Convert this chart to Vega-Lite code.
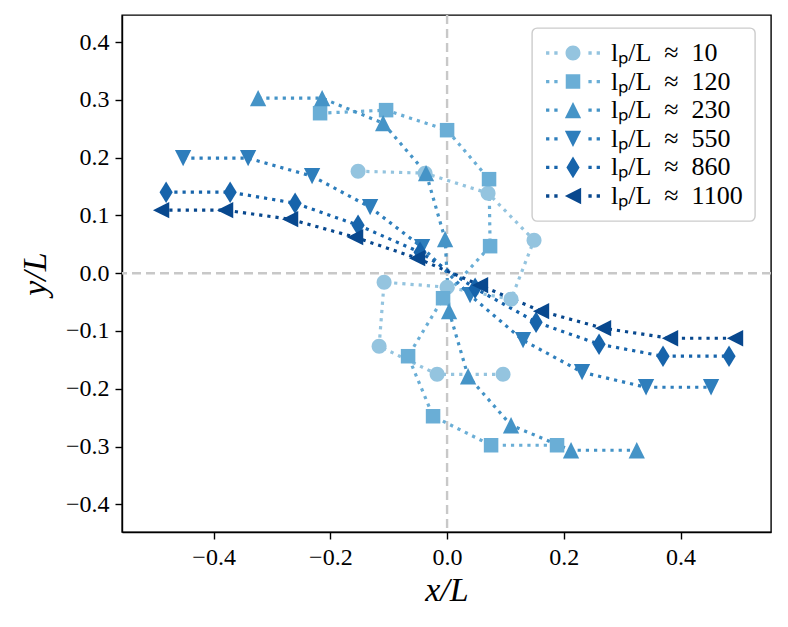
{
  "$schema": "https://vega.github.io/schema/vega-lite/v6.json",
  "autosize": {"type": "none"},
  "width": 649,
  "height": 517,
  "padding": {"left": 122, "top": 15, "right": 17, "bottom": 95},
  "background": "white",
  "config": {
    "view": {"stroke": "black", "strokeWidth": 1.4},
    "axis": {
      "grid": false,
      "domainColor": "black",
      "domainWidth": 1.4,
      "tickColor": "black",
      "tickWidth": 1.4,
      "tickSize": 7,
      "labelFont": "Liberation Serif",
      "labelFontSize": 24,
      "labelColor": "black",
      "labelPadding": 6,
      "titleFont": "Liberation Serif",
      "titleFontSize": 34,
      "titleFontWeight": "normal",
      "titleFontStyle": "italic",
      "titleColor": "black"
    },
    "legend": {
      "orient": "none",
      "legendX": 410,
      "legendY": 13,
      "fillColor": "rgba(255,255,255,0.85)",
      "strokeColor": "#cccccc",
      "strokeWidth": 1.4,
      "cornerRadius": 5,
      "padding": 12,
      "symbolSize": 484,
      "symbolOffset": 16,
      "symbolOpacity": 1,
      "labelOffset": 25,
      "labelFont": "Liberation Serif",
      "labelFontSize": 26,
      "labelColor": "black",
      "labelLimit": 0,
      "rowPadding": 2.6,
      "symbolStrokeWidth": 0
    }
  },
  "datasets": {
    "pts": [
      {"s": "lₚ/L ≈ 10", "i": 1, "x": -0.1525, "y": 0.1766},
      {"s": "lₚ/L ≈ 10", "i": 2, "x": -0.0377, "y": 0.1732},
      {"s": "lₚ/L ≈ 10", "i": 3, "x": 0.0702, "y": 0.1385},
      {"s": "lₚ/L ≈ 10", "i": 4, "x": 0.149, "y": 0.0571},
      {"s": "lₚ/L ≈ 10", "i": 5, "x": 0.1096, "y": -0.045},
      {"s": "lₚ/L ≈ 10", "i": 6, "x": 0.0, "y": -0.0242},
      {"s": "lₚ/L ≈ 10", "i": 7, "x": -0.1079, "y": -0.0156},
      {"s": "lₚ/L ≈ 10", "i": 8, "x": -0.1165, "y": -0.1264},
      {"s": "lₚ/L ≈ 10", "i": 9, "x": -0.0171, "y": -0.175},
      {"s": "lₚ/L ≈ 10", "i": 10, "x": 0.0959, "y": -0.175},
      {"s": "lₚ/L ≈ 120", "i": 1, "x": -0.2176, "y": 0.277},
      {"s": "lₚ/L ≈ 120", "i": 2, "x": -0.1045, "y": 0.2823},
      {"s": "lₚ/L ≈ 120", "i": 3, "x": 0.0, "y": 0.2476},
      {"s": "lₚ/L ≈ 120", "i": 4, "x": 0.0719, "y": 0.1628},
      {"s": "lₚ/L ≈ 120", "i": 5, "x": 0.0737, "y": 0.0468},
      {"s": "lₚ/L ≈ 120", "i": 6, "x": -0.0069, "y": -0.0433},
      {"s": "lₚ/L ≈ 120", "i": 7, "x": -0.0668, "y": -0.1437},
      {"s": "lₚ/L ≈ 120", "i": 8, "x": -0.024, "y": -0.2476},
      {"s": "lₚ/L ≈ 120", "i": 9, "x": 0.0754, "y": -0.2978},
      {"s": "lₚ/L ≈ 120", "i": 10, "x": 0.1884, "y": -0.2978},
      {"s": "lₚ/L ≈ 230", "i": 1, "x": -0.3238, "y": 0.303},
      {"s": "lₚ/L ≈ 230", "i": 2, "x": -0.2141, "y": 0.303},
      {"s": "lₚ/L ≈ 230", "i": 3, "x": -0.1096, "y": 0.2597},
      {"s": "lₚ/L ≈ 230", "i": 4, "x": -0.036, "y": 0.1732},
      {"s": "lₚ/L ≈ 230", "i": 5, "x": -0.0034, "y": 0.0589},
      {"s": "lₚ/L ≈ 230", "i": 6, "x": 0.0034, "y": -0.0658},
      {"s": "lₚ/L ≈ 230", "i": 7, "x": 0.036, "y": -0.1784},
      {"s": "lₚ/L ≈ 230", "i": 8, "x": 0.1096, "y": -0.2632},
      {"s": "lₚ/L ≈ 230", "i": 9, "x": 0.2124, "y": -0.3065},
      {"s": "lₚ/L ≈ 230", "i": 10, "x": 0.325, "y": -0.3065},
      {"s": "lₚ/L ≈ 550", "i": 1, "x": -0.4523, "y": 0.1991},
      {"s": "lₚ/L ≈ 550", "i": 2, "x": -0.3409, "y": 0.1991},
      {"s": "lₚ/L ≈ 550", "i": 3, "x": -0.2313, "y": 0.168},
      {"s": "lₚ/L ≈ 550", "i": 4, "x": -0.1319, "y": 0.1143},
      {"s": "lₚ/L ≈ 550", "i": 5, "x": -0.0428, "y": 0.045},
      {"s": "lₚ/L ≈ 550", "i": 6, "x": 0.0394, "y": -0.0381},
      {"s": "lₚ/L ≈ 550", "i": 7, "x": 0.1302, "y": -0.116},
      {"s": "lₚ/L ≈ 550", "i": 8, "x": 0.2313, "y": -0.1714},
      {"s": "lₚ/L ≈ 550", "i": 9, "x": 0.3409, "y": -0.1974},
      {"s": "lₚ/L ≈ 550", "i": 10, "x": 0.4523, "y": -0.1974},
      {"s": "lₚ/L ≈ 860", "i": 1, "x": -0.4814, "y": 0.1403},
      {"s": "lₚ/L ≈ 860", "i": 2, "x": -0.3717, "y": 0.1403},
      {"s": "lₚ/L ≈ 860", "i": 3, "x": -0.2604, "y": 0.1212},
      {"s": "lₚ/L ≈ 860", "i": 4, "x": -0.1525, "y": 0.0831},
      {"s": "lₚ/L ≈ 860", "i": 5, "x": -0.0463, "y": 0.0364},
      {"s": "lₚ/L ≈ 860", "i": 6, "x": 0.048, "y": -0.026},
      {"s": "lₚ/L ≈ 860", "i": 7, "x": 0.1525, "y": -0.0848},
      {"s": "lₚ/L ≈ 860", "i": 8, "x": 0.2604, "y": -0.1229},
      {"s": "lₚ/L ≈ 860", "i": 9, "x": 0.37, "y": -0.1437},
      {"s": "lₚ/L ≈ 860", "i": 10, "x": 0.4831, "y": -0.1437},
      {"s": "lₚ/L ≈ 1100", "i": 1, "x": -0.49, "y": 0.1091},
      {"s": "lₚ/L ≈ 1100", "i": 2, "x": -0.3803, "y": 0.1091},
      {"s": "lₚ/L ≈ 1100", "i": 3, "x": -0.269, "y": 0.0935},
      {"s": "lₚ/L ≈ 1100", "i": 4, "x": -0.1576, "y": 0.0623},
      {"s": "lₚ/L ≈ 1100", "i": 5, "x": -0.0514, "y": 0.026},
      {"s": "lₚ/L ≈ 1100", "i": 6, "x": 0.0565, "y": -0.0208},
      {"s": "lₚ/L ≈ 1100", "i": 7, "x": 0.161, "y": -0.0658},
      {"s": "lₚ/L ≈ 1100", "i": 8, "x": 0.2672, "y": -0.0952},
      {"s": "lₚ/L ≈ 1100", "i": 9, "x": 0.382, "y": -0.1126},
      {"s": "lₚ/L ≈ 1100", "i": 10, "x": 0.4934, "y": -0.1126}
    ],
    "zero": [{"z": 0}]
  },
  "layer": [
    {
      "data": {"name": "zero"},
      "mark": {"type": "rule", "color": "#c8c8c8", "strokeWidth": 2.4, "strokeDash": [9, 5]},
      "encoding": {
        "x": {"field": "z", "type": "quantitative", "scale": {"domain": [-0.557, 0.555], "nice": false, "zero": false}, "axis": {"values": [-0.4, -0.2, 0, 0.2, 0.4], "format": ".1f", "title": "x/L", "titlePadding": 4}}
      }
    },
    {
      "data": {"name": "zero"},
      "mark": {"type": "rule", "color": "#c8c8c8", "strokeWidth": 2.4, "strokeDash": [9, 5]},
      "encoding": {
        "y": {"field": "z", "type": "quantitative", "scale": {"domain": [-0.448, 0.447], "nice": false, "zero": false}, "axis": {"values": [-0.4, -0.3, -0.2, -0.1, 0, 0.1, 0.2, 0.3, 0.4], "format": ".1f", "title": "y/L", "titlePadding": 13}}
      }
    },
    {
      "data": {"name": "pts"},
      "mark": {"type": "line", "strokeWidth": 3.2, "strokeDash": [3.2, 5], "strokeCap": "butt"},
      "encoding": {
        "x": {"field": "x", "type": "quantitative"},
        "y": {"field": "y", "type": "quantitative"},
        "color": {"field": "s", "type": "nominal", "sort": ["lₚ/L ≈ 10", "lₚ/L ≈ 120", "lₚ/L ≈ 230", "lₚ/L ≈ 550", "lₚ/L ≈ 860", "lₚ/L ≈ 1100"], "scale": {"range": ["#94c4df", "#6aaed6", "#4594c7", "#2e7ebc", "#1764ab", "#08488e"]}, "legend": null},
        "order": {"field": "i", "type": "quantitative"}
      }
    },
    {
      "data": {"name": "pts"},
      "mark": {"type": "point", "filled": true, "opacity": 1, "size": 484, "strokeWidth": 0},
      "encoding": {
        "x": {"field": "x", "type": "quantitative"},
        "y": {"field": "y", "type": "quantitative"},
        "color": {"field": "s", "type": "nominal", "sort": ["lₚ/L ≈ 10", "lₚ/L ≈ 120", "lₚ/L ≈ 230", "lₚ/L ≈ 550", "lₚ/L ≈ 860", "lₚ/L ≈ 1100"], "scale": {"range": ["#94c4df", "#6aaed6", "#4594c7", "#2e7ebc", "#1764ab", "#08488e"]}, "legend": null},
        "shape": {"field": "s", "type": "nominal", "sort": ["lₚ/L ≈ 10", "lₚ/L ≈ 120", "lₚ/L ≈ 230", "lₚ/L ≈ 550", "lₚ/L ≈ 860", "lₚ/L ≈ 1100"], "scale": {"range": [
          "M0.68,0A0.68,0.68,0,1,1,-0.68,0A0.68,0.68,0,1,1,0.68,0Z",
          "M-0.66,-0.66H0.66V0.66H-0.66Z",
          "M0,-0.74L0.74,0.74L-0.74,0.74Z",
          "M0,0.74L0.74,-0.74L-0.74,-0.74Z",
          "M0,-0.98L0.6,0L0,0.98L-0.6,0Z",
          "M-0.74,0L0.74,-0.74L0.74,0.74Z"
        ]}, "legend": null}
      }
    },
    {
      "data": {"name": "pts"},
      "mark": {"type": "point", "filled": true, "opacity": 0, "size": 484, "strokeWidth": 0, "fill": {"expr": "['#94c4df', '#6aaed6', '#4594c7', '#2e7ebc', '#1764ab', '#08488e'][indexof(['lₚ/L ≈ 10', 'lₚ/L ≈ 120', 'lₚ/L ≈ 230', 'lₚ/L ≈ 550', 'lₚ/L ≈ 860', 'lₚ/L ≈ 1100'], datum.s || datum.value)] || '#6aaed6'"}},
      "encoding": {
        "x": {"field": "x", "type": "quantitative"},
        "y": {"field": "y", "type": "quantitative"},
        "shape": {"field": "s", "type": "nominal", "sort": ["lₚ/L ≈ 10", "lₚ/L ≈ 120", "lₚ/L ≈ 230", "lₚ/L ≈ 550", "lₚ/L ≈ 860", "lₚ/L ≈ 1100"], "scale": {"range": [
          "M0.68,0A0.68,0.68,0,1,1,-0.68,0A0.68,0.68,0,1,1,0.68,0Z M-2.45,-0.15h0.3v0.3h-0.3Z M-1.7,-0.15h0.3v0.3h-0.3Z M1.4,-0.15h0.3v0.3h-0.3Z M2.15,-0.15h0.3v0.3h-0.3Z",
          "M-0.66,-0.66H0.66V0.66H-0.66Z M-2.45,-0.15h0.3v0.3h-0.3Z M-1.7,-0.15h0.3v0.3h-0.3Z M1.4,-0.15h0.3v0.3h-0.3Z M2.15,-0.15h0.3v0.3h-0.3Z",
          "M0,-0.74L0.74,0.74L-0.74,0.74Z M-2.45,-0.15h0.3v0.3h-0.3Z M-1.7,-0.15h0.3v0.3h-0.3Z M1.4,-0.15h0.3v0.3h-0.3Z M2.15,-0.15h0.3v0.3h-0.3Z",
          "M0,0.74L0.74,-0.74L-0.74,-0.74Z M-2.45,-0.15h0.3v0.3h-0.3Z M-1.7,-0.15h0.3v0.3h-0.3Z M1.4,-0.15h0.3v0.3h-0.3Z M2.15,-0.15h0.3v0.3h-0.3Z",
          "M0,-0.98L0.6,0L0,0.98L-0.6,0Z M-2.45,-0.15h0.3v0.3h-0.3Z M-1.7,-0.15h0.3v0.3h-0.3Z M1.4,-0.15h0.3v0.3h-0.3Z M2.15,-0.15h0.3v0.3h-0.3Z",
          "M-0.74,0L0.74,-0.74L0.74,0.74Z M-2.45,-0.15h0.3v0.3h-0.3Z M-1.7,-0.15h0.3v0.3h-0.3Z M1.4,-0.15h0.3v0.3h-0.3Z M2.15,-0.15h0.3v0.3h-0.3Z"
        ]}, "legend": {"title": null, "labelExpr": "replace(datum.label, ' ≈ ', '\u2002≈\u2002')"}}
      }
    }
  ],
  "resolve": {"scale": {"shape": "independent"}}
}
